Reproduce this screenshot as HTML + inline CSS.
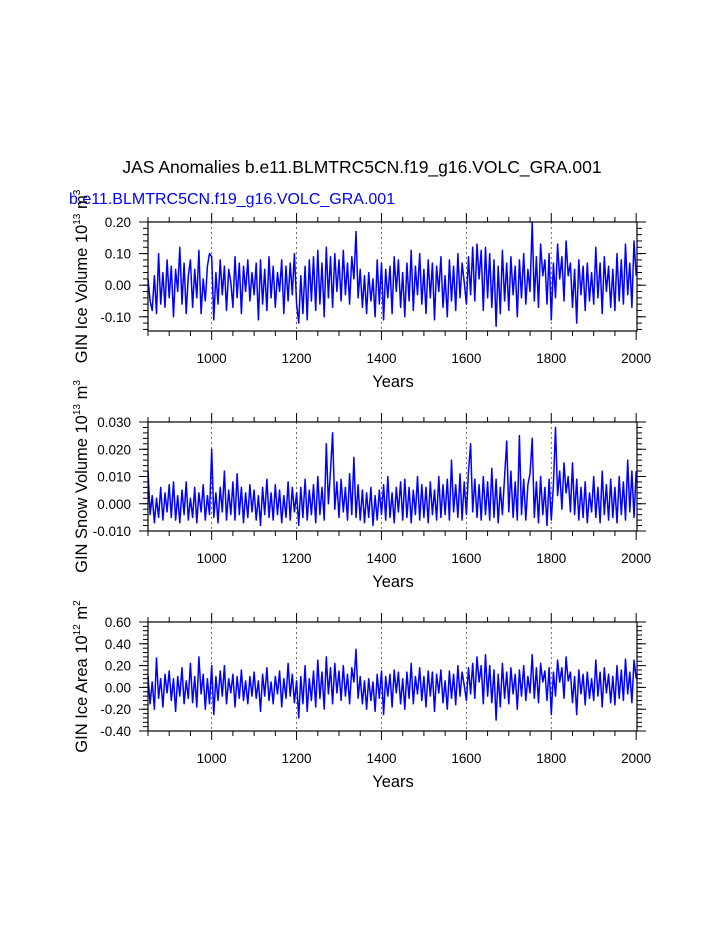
<!DOCTYPE html>
<html><head><meta charset="utf-8"><style>
html,body{margin:0;padding:0;background:#fff;}
svg{display:block;font-family:"Liberation Sans",sans-serif;}
</style></head><body>
<svg id="chart" width="723" height="935" viewBox="0 0 723 935" xmlns="http://www.w3.org/2000/svg">
<text x="362" y="173" font-size="17.5" text-anchor="middle">JAS Anomalies b.e11.BLMTRC5CN.f19_g16.VOLC_GRA.001</text>
<text x="69" y="204" font-size="16" fill="#0000ff">b.e11.BLMTRC5CN.f19_g16.VOLC_GRA.001</text>
</svg>
<script>
const startYear = 850, stepYears = 5;
const iceVolume = [
0.02,-0.05,-0.08,0.03,-0.09,0.10,-0.06,0.04,-0.07,0.08,
-0.04,0.06,-0.10,0.05,-0.02,0.12,-0.06,0.07,-0.09,0.03,
0.08,-0.07,0.05,-0.04,0.11,-0.09,0.02,-0.05,0.06,0.10,
0.09,-0.11,0.04,-0.06,0.08,-0.03,0.06,-0.08,0.05,0.01,
-0.07,0.09,-0.04,0.07,-0.09,0.06,-0.02,0.08,-0.05,0.04,
-0.03,0.07,-0.11,0.08,-0.06,0.05,-0.08,0.09,-0.04,0.06,
-0.07,0.04,-0.02,0.08,-0.09,0.06,-0.05,0.07,-0.03,0.10,
-0.06,-0.12,0.03,-0.09,0.06,-0.11,0.08,-0.05,0.09,-0.08,
0.11,-0.06,0.07,-0.10,0.12,-0.04,0.09,-0.07,0.10,-0.02,
0.08,-0.05,0.11,-0.03,0.07,-0.06,0.09,0.02,0.17,-0.04,
0.05,-0.07,0.03,-0.09,0.04,-0.05,0.02,-0.10,0.08,-0.06,
0.07,-0.11,0.05,-0.04,0.06,-0.09,0.09,-0.02,0.08,-0.07,
0.04,-0.10,0.07,-0.05,0.11,-0.08,0.06,-0.03,0.10,-0.06,
0.05,-0.09,0.08,-0.04,0.07,-0.11,0.06,-0.02,0.09,-0.07,
0.03,-0.10,0.08,-0.05,0.06,-0.08,0.10,-0.04,0.07,0.01,
-0.06,0.09,-0.03,0.12,-0.05,0.13,0.02,0.11,-0.08,0.12,
-0.04,0.10,-0.07,0.08,-0.13,0.06,-0.09,0.11,-0.05,0.07,
-0.08,0.09,-0.03,0.06,-0.10,0.08,-0.04,0.10,-0.06,0.05,
-0.02,0.20,-0.05,0.09,-0.07,0.13,0.03,0.08,-0.06,0.10,
-0.11,0.07,-0.04,0.13,0.02,0.09,-0.05,0.14,0.03,0.07,
-0.07,0.05,-0.12,0.08,-0.03,0.06,-0.08,0.07,-0.05,0.04,
-0.06,0.12,-0.04,0.07,-0.09,0.09,-0.02,0.06,-0.07,0.05,
-0.08,0.10,-0.05,0.08,-0.06,0.13,-0.03,0.07,-0.07,0.14,
0.03];
const snowVolume = [
0.012,-0.004,0.003,-0.007,0.002,-0.005,0.006,-0.006,0.004,-0.003,
0.007,-0.005,0.008,-0.006,0.003,-0.007,0.005,-0.004,0.008,-0.006,
0.002,-0.005,0.006,-0.007,0.004,-0.003,0.007,-0.006,0.003,-0.004,
0.020,-0.005,0.004,-0.007,0.006,-0.003,0.012,-0.006,0.005,-0.004,
0.008,-0.006,0.011,-0.004,0.006,-0.007,0.004,-0.005,0.007,-0.003,
0.005,-0.006,0.003,-0.008,0.006,-0.004,0.009,-0.005,0.004,-0.006,
0.007,-0.004,0.005,-0.007,0.003,-0.005,0.008,-0.006,0.006,-0.003,
0.004,-0.008,0.006,-0.005,0.009,-0.006,0.005,-0.004,0.007,-0.007,
0.010,-0.004,0.006,-0.006,0.022,0.000,0.012,0.026,-0.002,0.008,
-0.005,0.009,-0.003,0.006,-0.006,0.011,-0.004,0.017,-0.005,0.007,
-0.006,0.005,-0.007,0.004,-0.005,0.006,-0.008,0.003,-0.006,0.005,
-0.004,0.007,-0.006,0.010,-0.005,0.004,-0.007,0.006,-0.003,0.008,
-0.006,0.009,-0.005,0.006,-0.007,0.005,-0.004,0.010,-0.006,0.007,
-0.005,0.006,-0.007,0.008,-0.004,0.005,-0.006,0.010,-0.005,0.007,
-0.004,0.009,-0.006,0.016,-0.003,0.007,-0.005,0.011,-0.006,0.008,
-0.004,0.012,0.022,-0.003,0.009,-0.005,0.007,-0.006,0.010,-0.004,
0.008,-0.006,0.013,-0.005,0.009,-0.007,0.006,-0.004,0.010,0.023,
-0.003,0.012,-0.005,0.008,-0.006,0.025,-0.004,0.009,-0.006,0.007,
0.011,0.024,-0.005,0.008,-0.007,0.010,-0.004,0.006,-0.008,0.009,
-0.006,0.007,0.028,0.003,0.012,-0.002,0.015,0.004,0.010,-0.003,
0.015,-0.004,0.009,-0.006,0.006,-0.005,0.008,-0.007,0.004,-0.003,
0.010,-0.005,0.006,-0.007,0.012,-0.004,0.007,-0.006,0.009,-0.005,
0.006,-0.007,0.010,-0.004,0.008,-0.006,0.016,-0.003,0.012,-0.005,
0.012];
const iceArea = [
0.10,-0.15,0.05,-0.20,0.27,-0.10,0.08,-0.18,0.12,-0.05,
0.15,-0.12,0.08,-0.22,0.10,-0.08,0.18,-0.15,0.06,-0.10,
0.22,-0.14,0.10,-0.18,0.28,-0.06,0.12,-0.20,0.08,-0.15,
0.20,-0.25,0.10,-0.12,0.15,-0.08,0.20,-0.15,0.08,-0.05,
0.12,-0.18,0.10,-0.10,0.16,-0.12,0.06,-0.15,0.10,-0.08,
0.14,-0.10,0.06,-0.22,0.12,-0.08,0.18,-0.12,0.05,-0.15,
0.10,-0.06,0.15,-0.18,0.08,-0.10,0.22,-0.08,0.12,-0.14,
0.06,-0.28,0.10,-0.15,0.20,-0.22,0.08,-0.12,0.15,-0.18,
0.25,-0.10,0.14,-0.20,0.28,-0.06,0.18,-0.15,0.22,-0.05,
0.15,-0.12,0.20,-0.08,0.12,-0.15,0.18,0.05,0.35,-0.10,
0.10,-0.15,0.06,-0.20,0.08,-0.12,0.05,-0.22,0.12,-0.10,
0.15,-0.25,0.10,-0.08,0.12,-0.18,0.16,-0.05,0.14,-0.15,
0.08,-0.20,0.14,-0.10,0.22,-0.15,0.10,-0.06,0.18,-0.12,
0.10,-0.18,0.15,-0.08,0.14,-0.22,0.12,-0.05,0.16,-0.14,
0.06,-0.20,0.15,-0.10,0.12,-0.16,0.20,-0.08,0.14,0.02,
-0.12,0.18,-0.06,0.22,-0.10,0.28,0.05,0.20,-0.15,0.30,
-0.08,0.20,-0.14,0.16,-0.30,0.12,-0.18,0.22,-0.10,0.14,
-0.15,0.18,-0.06,0.12,-0.20,0.16,-0.08,0.20,-0.12,0.10,
-0.05,0.30,-0.10,0.18,-0.14,0.22,0.05,0.15,-0.12,0.18,
-0.25,0.14,-0.08,0.25,0.05,0.18,-0.10,0.28,0.06,0.14,
-0.14,0.10,-0.25,0.16,-0.06,0.12,-0.16,0.14,-0.10,0.08,
-0.12,0.25,-0.08,0.14,-0.18,0.18,-0.05,0.12,-0.14,0.10,
-0.16,0.20,-0.10,0.16,-0.12,0.26,-0.06,0.14,-0.14,0.25,
0.08];
const xTickYears = [1000,1200,1400,1600,1800,2000];
const iceVolTicks = [0.2,0.1,0,-0.1];
const iceVolLabels = ["0.20","0.10","0.00","-0.10"];
const snowTicks = [0.03,0.02,0.01,0,-0.01];
const snowLabels = ["0.030","0.020","0.010","0.000","-0.010"];
const areaTicks = [0.6,0.4,0.2,0,-0.2,-0.4];
const areaLabels = ["0.60","0.40","0.20","0.00","-0.20","-0.40"];

const NS="http://www.w3.org/2000/svg";
const svg=document.getElementById('chart');
function mk(tag,attrs,parent){const e=document.createElementNS(NS,tag);for(const k in attrs)e.setAttribute(k,attrs[k]);(parent||svg).appendChild(e);return e;}

const X0=148,X1=637,YR0=850,YR1=2002;
const xs=y=>X0+(y-YR0)/(YR1-YR0)*(X1-X0);

function panel(name,top,ymin,ymax,minorStep,vals,ticks,labels,titleMain,exp,unitExp){
  const H=109, bot=top+H;
  const ys=v=>bot-(v-ymin)/(ymax-ymin)*H;
  const g=mk('g',{});
  
  
  xTickYears.slice(0,5).forEach(yr=>{
    const l=mk('line',{x1:xs(yr),x2:xs(yr),y1:top,y2:bot,stroke:'#444','stroke-width':0.8,'stroke-dasharray':'2,3'},g);
    
    
  });
  let d='';
  vals.forEach((v,i)=>{d+=(i?'L':'M')+xs(startYear+i*stepYears).toFixed(1)+','+ys(v).toFixed(1);});
  const p=mk('path',{d:d,fill:'none',stroke:'#0000ff','stroke-width':1.5,'stroke-linejoin':'round'},g);
  
  
  const r=mk('rect',{x:X0,y:top,width:X1-X0,height:H,fill:'none',stroke:'#000','stroke-width':1.2},g);
  
  
  for(let yr=850;yr<=2000;yr+=50){
    const major=yr%200===0, L=major?9:5, x=xs(yr);
    mk('line',{x1:x,x2:x,y1:bot,y2:bot+L,stroke:'#000','stroke-width':1},g);
    mk('line',{x1:x,x2:x,y1:top,y2:top-L,stroke:'#000','stroke-width':1},g);
  }
  xTickYears.forEach(yr=>{
    const t=mk('text',{x:xs(yr),y:bot+32,'font-size':13.5,'text-anchor':'middle'},g);
    t.textContent=yr;
    
    
  });
  const xt=mk('text',{x:393,y:bot+56,'font-size':16.5,'text-anchor':'middle'},g);
  xt.textContent='Years';
  
  
  for(let v=Math.ceil(ymin/minorStep-1e-6)*minorStep; v<=ymax+1e-9; v+=minorStep){
    const y=ys(v);
    mk('line',{x1:X0,x2:X0-5,y1:y,y2:y,stroke:'#000','stroke-width':1},g);
    mk('line',{x1:X1,x2:X1+5,y1:y,y2:y,stroke:'#000','stroke-width':1},g);
  }
  ticks.forEach((v,i)=>{
    const y=ys(v);
    mk('line',{x1:X0,x2:X0-9,y1:y,y2:y,stroke:'#000','stroke-width':1},g);
    mk('line',{x1:X1,x2:X1+9,y1:y,y2:y,stroke:'#000','stroke-width':1},g);
    const t=mk('text',{x:X0-17,y:y+5,'font-size':13.5,'text-anchor':'end'},g);
    t.textContent=labels[i];
    
    
  });
  const cy=top+H/2;
  const yt=mk('text',{x:0,y:0,'font-size':16.5,'text-anchor':'middle',transform:'translate(87,'+cy+') rotate(-90)'},g);
  
  
  const a=mk('tspan',{},yt);a.textContent=titleMain+' 10';
  const b=mk('tspan',{'font-size':10,dy:-7},yt);b.textContent=exp;
  const c=mk('tspan',{dy:7},yt);c.textContent=' m';
  const e=mk('tspan',{'font-size':10,dy:-7},yt);e.textContent=unitExp;
}
panel('ice-volume',222,-0.145,0.2,0.02,iceVolume,iceVolTicks,iceVolLabels,'GIN Ice Volume','13','3');
panel('snow-volume',422,-0.01,0.03,0.002,snowVolume,snowTicks,snowLabels,'GIN Snow Volume','13','3');
panel('ice-area',622,-0.4,0.6,0.04,iceArea,areaTicks,areaLabels,'GIN Ice Area','12','2');
</script>
</body></html>
